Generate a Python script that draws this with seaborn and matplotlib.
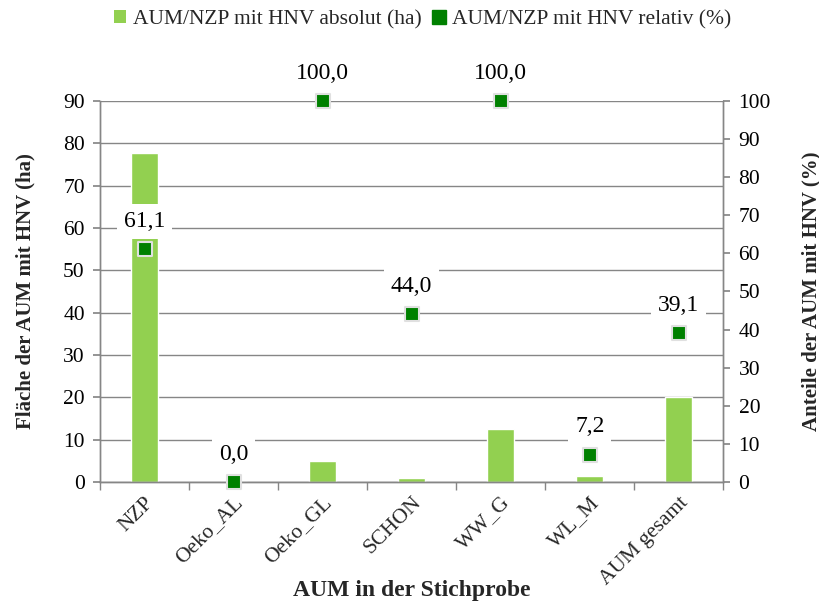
import matplotlib
matplotlib.use("Agg")
import matplotlib.pyplot as plt
from matplotlib.lines import Line2D
from matplotlib.patches import Patch
import seaborn as sns
import pandas as pd
import numpy as np

categories = ["NZP", "Oeko_AL", "Oeko_GL", "SCHON", "WW_G", "WL_M", "AUM gesamt"]
hnv_absolut_ha = [77.8, 0.0, 5.0, 1.0, 12.5, 1.4, 20.0]
hnv_relativ_pct = [61.1, 0.0, 100.0, 44.0, 100.0, 7.2, 39.1]
left_ticks = list(range(0, 91, 10))
right_ticks = list(range(0, 101, 10))

bar_color = "#92d050"
point_color = "#008000"
axis_gray = "#868686"

sns.set_theme(style="white")
plt.rcParams["font.family"] = ["Liberation Serif", "DejaVu Serif"]

df = pd.DataFrame({"kategorie": categories,
                   "absolut": hnv_absolut_ha,
                   "relativ": hnv_relativ_pct})

fig = plt.figure(figsize=(8.2, 6.03), dpi=100)
ax = fig.add_axes([0.122, 0.2007, 0.76, 0.632])

sns.barplot(data=df, x="kategorie", y="absolut", color=bar_color,
            width=0.30, saturation=1, ax=ax, zorder=2)
ax.set_ylim(0, 90)
ax.set_yticks(left_ticks)
ax.set_xlim(-0.5, len(categories) - 0.5)
ax.yaxis.grid(True, color=axis_gray, linewidth=1.0)
ax.set_axisbelow(True)

ax2 = ax.twinx()
sns.scatterplot(data=df, x="kategorie", y="relativ", marker="s", s=110,
                color=point_color, edgecolor="#e0e0e0", linewidth=1.5,
                ax=ax2, zorder=5, clip_on=False, legend=False)
ax2.set_ylim(0, 100)
ax2.set_yticks(right_ticks)

for i, v in enumerate(hnv_relativ_pct):
    ax2.annotate(f"{v:.1f}".replace(".", ","), xy=(i, v), xytext=(0, 20),
                 textcoords="offset points", ha="center", va="center",
                 fontsize=17, color="black", zorder=6, annotation_clip=False,
                 bbox=dict(boxstyle="square,pad=0.3", fc="white", ec="none"))

for a in (ax, ax2):
    a.spines["top"].set_visible(False)
    for side in ("left", "right", "bottom"):
        a.spines[side].set_color(axis_gray)
        a.spines[side].set_linewidth(1.0)
    a.tick_params(axis="y", labelsize=15.5, colors="black", length=5,
                  color=axis_gray, direction="out", pad=6)

ax.tick_params(axis="y", left=True)
ax2.tick_params(axis="y", right=True)

# category boundaries as tick marks, labels centered under each category
ax.set_xticks(np.arange(len(categories)))
ax.set_xticklabels(categories, rotation=45, ha="right", rotation_mode="anchor",
                   fontsize=15.5)
ax.tick_params(axis="x", which="major", length=0, pad=8)
ax.set_xticks(np.arange(-0.5, len(categories)), minor=True)
ax.tick_params(axis="x", which="minor", length=6, color=axis_gray,
               direction="out", bottom=True)

ax.set_xlabel("AUM in der Stichprobe", fontsize=17, fontweight="bold",
              labelpad=-6)
ax.set_ylabel("Fläche der AUM mit HNV (ha)", fontsize=15, fontweight="bold",
              labelpad=20)
ax2.set_ylabel("Anteile der AUM mit HNV (%)", fontsize=15, fontweight="bold",
               labelpad=22)

handles = [Patch(facecolor=bar_color, edgecolor="none"),
           Line2D([], [], marker="s", linestyle="none", markersize=10,
                  markerfacecolor=point_color, markeredgecolor=point_color)]
fig.legend(handles, ["AUM/NZP mit HNV absolut (ha)", "AUM/NZP mit HNV relativ (%)"],
           loc="center", bbox_to_anchor=(0.515, 0.968), ncol=2, frameon=False,
           fontsize=15.5, handlelength=0.6, handleheight=0.6, handletextpad=0.3,
           columnspacing=0.5)

fig.savefig("out.png", dpi=100)
